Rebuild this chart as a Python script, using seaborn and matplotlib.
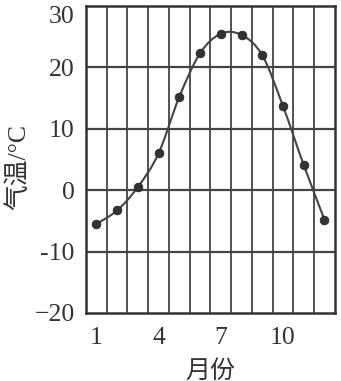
import numpy as np
import pandas as pd
import seaborn as sns
import matplotlib
matplotlib.use("Agg")
import matplotlib.pyplot as plt
from matplotlib.path import Path
from matplotlib.patches import PathPatch

months = [1, 2, 3, 4, 5, 6, 7, 8, 9, 10, 11, 12]
temps = [-5.5, -3.3, 0.5, 6.0, 15.2, 22.3, 25.5, 25.3, 22.0, 13.7, 4.1, -4.8]
xtick_vals = [1, 4, 7, 10]
ytick_vals = [-20, -10, 0, 10, 20, 30]
ytick_labels = ["\u221220", "-10", "0", "10", "20", "30"]

sns.set_theme(style="white")
plt.rcParams['font.family'] = ['Liberation Serif', 'Noto Sans CJK SC']

ink = "#333333"
fig = plt.figure(figsize=(3.41, 3.81), dpi=100)
ax = fig.add_axes([0.252, 0.1785, 0.73, 0.8055])

df = pd.DataFrame({"month": months, "temp": temps})

# smooth curve through the points (Catmull-Rom as cubic Bezier segments)
x = np.array(months, dtype=float)
y = np.array(temps, dtype=float)
verts = [(x[0], y[0])]
codes = [Path.MOVETO]
n = len(x)
for i in range(n - 1):
    p0 = (x[i - 1], y[i - 1]) if i > 0 else (x[i], y[i])
    p1 = (x[i], y[i])
    p2 = (x[i + 1], y[i + 1])
    p3 = (x[i + 2], y[i + 2]) if i + 2 < n else (x[i + 1], y[i + 1])
    c1 = (p1[0] + (p2[0] - p0[0]) / 6, p1[1] + (p2[1] - p0[1]) / 6)
    c2 = (p2[0] - (p3[0] - p1[0]) / 6, p2[1] - (p3[1] - p1[1]) / 6)
    verts += [c1, c2, p2]
    codes += [Path.CURVE4] * 3
ax.add_patch(PathPatch(Path(verts, codes), fill=False, edgecolor="#444444", lw=1.5, zorder=3))

sns.scatterplot(data=df, x="month", y="temp", ax=ax, s=40, color="#333333",
                edgecolor="#222222", linewidth=0.5, zorder=4, legend=False)

ax.set_xlim(0.5, 12.5)
ax.set_ylim(-20, 30)
for v in np.arange(1.5, 12.5, 1):
    ax.axvline(v, color="#444444", lw=1.3, zorder=1)
for v in ytick_vals[1:-1]:
    ax.axhline(v, color="#444444", lw=1.6, zorder=1)

ax.set_xticks(xtick_vals)
ax.set_xticklabels([str(v) for v in xtick_vals])
ax.set_yticks(ytick_vals)
ax.set_yticklabels(ytick_labels)
ax.tick_params(axis="both", length=0, labelsize=18.5, colors=ink)
ax.tick_params(axis="y", pad=8)
ax.tick_params(axis="x", pad=10)
ax.get_yticklabels()[-1].set_va("top")
for s in ax.spines.values():
    s.set_color("#333333")
    s.set_linewidth(1.8)

ax.set_xlabel("月份", fontsize=18, color=ink)
ax.set_ylabel("气温/°C", fontsize=18.5, color=ink)
ax.xaxis.set_label_coords(0.5, -0.152)
ax.yaxis.set_label_coords(-0.225, 0.477)

fig.savefig("out.png", dpi=100)
